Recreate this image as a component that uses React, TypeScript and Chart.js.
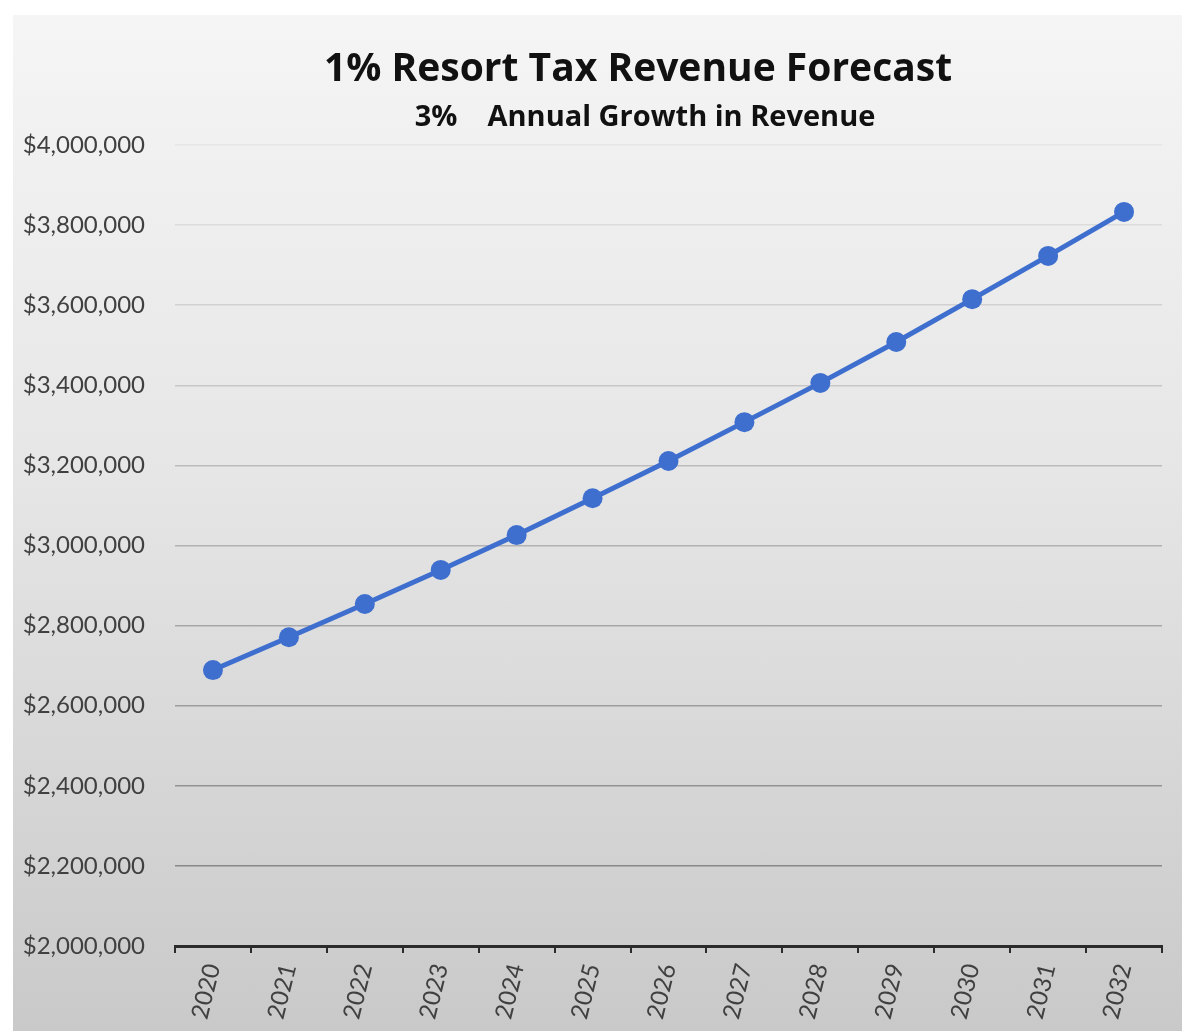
import React, { useEffect, useRef } from "react";
import { Chart, registerables } from "chart.js";

Chart.register(...registerables);

const years: string[] = ["2020", "2021", "2022", "2023", "2024", "2025", "2026", "2027", "2028", "2029", "2030", "2031", "2032"];
const revenue: number[] = [2689000, 2771000, 2854000, 2939000, 3026000, 3118000, 3211000, 3308000, 3406000, 3508000, 3615000, 3723000, 3833000];
const titleText = "1% Resort Tax Revenue Forecast";
const subtitleText = "3%    Annual Growth in Revenue";
const yMin = 2000000;
const yMax = 4000000;
const yStep = 200000;

const FONT = "Lato, 'Open Sans', sans-serif";
const TITLE_FONT = "'Open Sans', Lato, sans-serif";

const titlePlugin = {
  id: "customTitles",
  afterDraw(chart: any) {
    const ctx = chart.ctx;
    ctx.save();
    ctx.fillStyle = "#111111";
    ctx.textAlign = "center";
    ctx.textBaseline = "alphabetic";
    ctx.font = `bold 39px ${TITLE_FONT}`;
    ctx.fillText(titleText, 638, 81);
    ctx.font = `bold 29px ${TITLE_FONT}`;
    ctx.fillText(subtitleText, 645, 126);
    ctx.restore();
  },
};

export default function App() {
  const ref = useRef<HTMLCanvasElement | null>(null);
  useEffect(() => {
    if (!ref.current) return;
    const chart = new Chart(ref.current, {
      type: "line",
      data: {
        labels: years,
        datasets: [
          {
            data: revenue,
            borderColor: "#3e6fcf",
            backgroundColor: "#3e6fcf",
            borderWidth: 5,
            pointRadius: 10,
            pointHoverRadius: 10,
            pointBackgroundColor: "#3e6fcf",
            pointBorderColor: "#3e6fcf",
            pointBorderWidth: 0,
            tension: 0,
          },
        ],
      },
      options: {
        animation: false,
        responsive: true,
        maintainAspectRatio: false,
        layout: { padding: { top: 145, left: 0, right: 28, bottom: 0 } },
        plugins: { legend: { display: false }, tooltip: { enabled: false }, title: { display: false } },
        scales: {
          x: {
            offset: true,
            afterFit(scale: any) {
              scale.height = 1031 - 946;
            },
            border: { display: true, color: "#2b2b2b", width: 3 },
            grid: {
              display: true,
              offset: true,
              drawOnChartArea: false,
              drawTicks: true,
              tickLength: 7,
              color: "#2b2b2b",
              lineWidth: 2,
            },
            ticks: {
              color: "#404040",
              font: { family: FONT, size: 24 },
              minRotation: 76,
              maxRotation: 76,
              padding: 8,
              autoSkip: false,
            },
          },
          y: {
            min: yMin,
            max: yMax,
            afterFit(scale: any) {
              scale.width = 175;
            },
            border: { display: false },
            grid: {
              drawTicks: false,
              lineWidth: 1.5,
              color: (c: any) => {
                const v = c.tick ? c.tick.value : yMin;
                const t = (v - yMin) / (yMax - yMin);
                const g = Math.round(125 + t * 105);
                return `rgb(${g},${g},${g})`;
              },
            },
            ticks: {
              stepSize: yStep,
              padding: 30,
              color: "#404040",
              font: { family: FONT, size: 24 },
              callback: (v: any) => "$" + Number(v).toLocaleString("en-US"),
            },
          },
        },
      },
      plugins: [titlePlugin],
    });
    return () => chart.destroy();
  }, []);

  return (
    <div style={{ position: "absolute", left: 0, top: 0, width: 1190, height: 1031, background: "#ffffff", overflow: "hidden" }}>
      <div
        style={{
          position: "absolute",
          left: 13,
          top: 15,
          width: 1169,
          height: 1016,
          background: "linear-gradient(to bottom, #f5f5f5 0%, #e6e6e6 45%, #c9c9c9 100%)",
        }}
      />
      <div style={{ position: "absolute", left: 0, top: 0, width: 1190, height: 1031 }}>
        <canvas ref={ref} />
      </div>
    </div>
  );
}
